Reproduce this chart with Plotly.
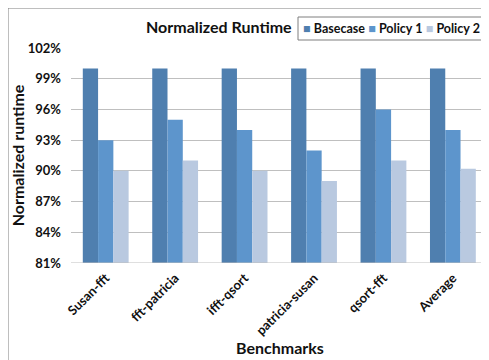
import plotly.graph_objects as go

categories = ["Susan-fft", "fft-patricia", "ifft-qsort", "patricia-susan", "qsort-fft", "Average"]
basecase = [100, 100, 100, 100, 100, 100]
policy1 = [93, 95, 94, 92, 96, 94]
policy2 = [90, 91, 90, 89, 91, 90.2]
series_names = ["Basecase", "Policy 1", "Policy 2"]
series_colors = ["#4F7FAF", "#5D95CC", "#B9C9E0"]
y_ticks = [81, 84, 87, 90, 93, 96, 99, 102]
y_tick_labels = [f"{v}%" for v in y_ticks]

FONT = "Lato, 'Open Sans', sans-serif"

fig = go.Figure()
for name, vals, col in zip(series_names, [basecase, policy1, policy2], series_colors):
    fig.add_trace(go.Bar(x=categories, y=vals, name=name, marker=dict(color=col, line=dict(width=0)),
                         showlegend=False))

OFF = 8  # page body margin
W, H = 489 - OFF, 360 - OFF
ml, mr, mt, mb = 71 - OFF, 0, 48 - OFF, 97
pw, ph = W - ml - mr, H - mt - mb

def px(x):
    return (x - OFF - ml) / pw

def py(y):
    return (H - mb - (y - OFF)) / ph

fig.update_layout(
    width=W, height=H,
    margin=dict(l=ml, r=mr, t=mt, b=mb),
    paper_bgcolor="white", plot_bgcolor="white",
    barmode="group", bargap=0.34, bargroupgap=0,
    font=dict(family=FONT, color="#111", size=12),
    xaxis=dict(range=[-0.5, 5.52], tickangle=-45, showgrid=False, showline=False, ticks="",
               tickfont=dict(size=13, family=FONT, weight="bold"), ticklabelstandoff=4,
               title=dict(text="<b>Benchmarks</b>", font=dict(size=16, family=FONT), standoff=4)),
    yaxis=dict(range=[81, 102], tickvals=y_ticks, ticktext=[f"<b>{t}</b>" for t in y_tick_labels],
               showgrid=True, gridcolor="#BFBFBF", gridwidth=1, zeroline=False, showline=False,
               ticks="", ticklabelstandoff=9, tickfont=dict(size=13, family=FONT),
               title=dict(text="<b>Normalized runtime</b>", font=dict(size=16, family=FONT), standoff=8)),
)

# bottom axis line
fig.add_shape(type="line", xref="paper", yref="y", x0=0, x1=1, y0=81, y1=81,
              line=dict(color="#BFBFBF", width=1))

# outer chart border
fig.add_shape(type="line", xref="paper", yref="paper", x0=px(7.5), x1=px(7.5), y0=py(7), y1=py(365),
              line=dict(color="#7F7F7F", width=2))
fig.add_shape(type="line", xref="paper", yref="paper", x0=px(7), x1=px(495), y0=py(7.5), y1=py(7.5),
              line=dict(color="#7F7F7F", width=2))

# title
fig.add_annotation(text="<b>Normalized Runtime</b>", xref="paper", yref="paper",
                   x=px(219), y=py(27), xanchor="center", yanchor="middle",
                   showarrow=False, font=dict(size=16, family=FONT))

# legend box
fig.add_shape(type="rect", xref="paper", yref="paper", x0=px(298), x1=px(500), y0=py(17), y1=py(40),
              line=dict(color="#7F7F7F", width=1), fillcolor="white")
legend_text = " ".join(
    f"<span style='color:{c}'>■</span> <b>{n}</b>" for n, c in zip(series_names, series_colors))
fig.add_annotation(text=legend_text, xref="paper", yref="paper", x=px(301), y=py(28.5),
                   xanchor="left", yanchor="middle", showarrow=False, font=dict(size=12.5, family=FONT))

fig.write_html("out.html")
